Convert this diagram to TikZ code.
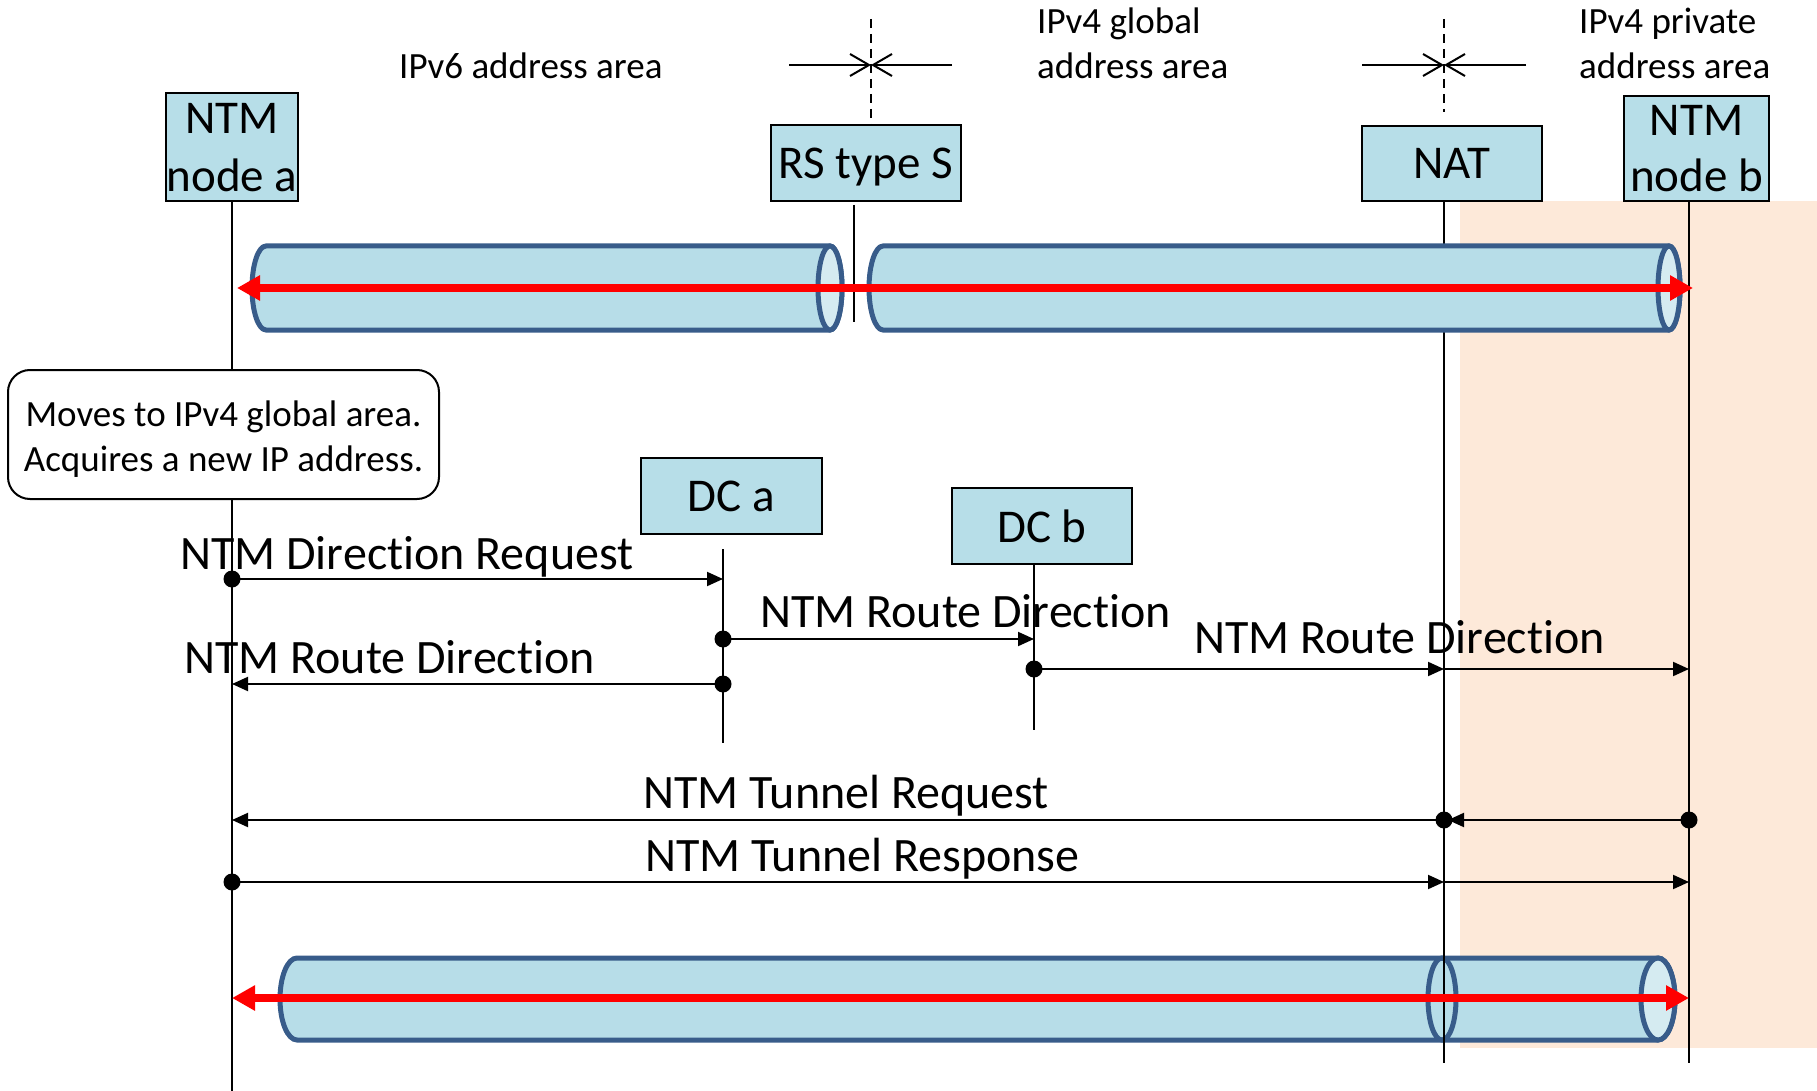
\documentclass[tikz,border=0pt]{standalone}
\usepackage{fontspec}
\setmainfont{Carlito}[Ligatures={NoCommon}]
\usetikzlibrary{arrows.meta}
\definecolor{boxfill}{HTML}{B7DEE8}
\definecolor{tubefill}{HTML}{B7DDE8}
\definecolor{tubeface}{HTML}{D5EBF1}
\definecolor{tubeline}{HTML}{385C8A}
\definecolor{privbg}{HTML}{FDE9D9}

% cylinder: #1 left centre x, #2 left x radius, #3 right centre x, #4 right x radius, #5 top y, #6 y radius
\newcommand{\tunnelbody}[6]{%
  \path[tube] (#1,#5) -- (#3,#5) arc[start angle=-90,end angle=90,x radius=#4,y radius=#6]
    -- (#1,{#5+2*#6}) arc[start angle=90,end angle=270,x radius=#2,y radius=#6] -- cycle;
  \path[tubeend] (#3,{#5+#6}) ellipse[x radius=#4,y radius=#6];}

\begin{document}
\begin{tikzpicture}[x=1pt,y=-1pt,
  entity/.style={draw=black,line width=2pt,fill=boxfill,inner sep=0pt,align=center,
    text depth=0pt,font=\fontsize{47}{56}\selectfont},
  lifeline/.style={line width=2pt},
  msg/.style={line width=2pt,-{Triangle[length=16pt,width=14pt]}},
  msglabel/.style={anchor=base west,inner sep=0pt,font=\fontsize{48}{58}\selectfont},
  arealabel/.style={anchor=base west,inner sep=0pt,font=\fontsize{37}{45}\selectfont},
  dot/.style={circle,fill=black,inner sep=0pt,minimum size=17pt},
  tube/.style={draw=tubeline,line width=5pt,fill=tubefill},
  tubeend/.style={draw=tubeline,line width=5pt,fill=tubeface},
  flow/.style={draw=red,line width=7.5pt,{Triangle[length=23pt,width=24pt]}-{Triangle[length=23pt,width=24pt]}},
  boundary/.style={line width=2pt,dash pattern=on 9pt off 6pt},
  marker/.style={line width=2pt,-{Straight Barb[length=19pt,width=22pt,line width=2pt]}}
]
\useasboundingbox (0,0) rectangle (1817,1091);

% private address area
\fill[privbg] (1460,201) rectangle (1817,1048);

% lifeline end points
\coordinate (la0) at (232,201);   \coordinate (la1) at (232,1091);
\coordinate (lrs0) at (854,205);  \coordinate (lrs1) at (854,322);
\coordinate (lnat0) at (1444,201);\coordinate (lnat1) at (1444,1063);
\coordinate (lb0) at (1689,201);  \coordinate (lb1) at (1689,1063);
\coordinate (lda0) at (723,549);  \coordinate (lda1) at (723,743);
\coordinate (ldb0) at (1034,564); \coordinate (ldb1) at (1034,730);

% tunnel after the move (behind the lifelines)
\tunnelbody{297}{17}{1658}{17}{958}{41}
\draw[draw=tubeline,line width=5pt] (1442,999) ellipse[x radius=14,y radius=41];

% lifelines
\draw[lifeline] (la0) -- (la1);
\draw[lifeline] (lrs0) -- (lrs1);
\draw[lifeline] (lnat0) -- (lnat1);
\draw[lifeline] (lb0) -- (lb1);
\draw[lifeline] (lda0) -- (lda1);
\draw[lifeline] (ldb0) -- (ldb1);

% area boundaries
\coordinate (rsd0) at (871,19);  \coordinate (rsd1) at (871,125);
\coordinate (natd0) at (1444,19); \coordinate (natd1) at (1444,112);
\draw[boundary] (rsd0) -- (rsd1);
\draw[boundary] (natd0) -- (natd1);
\coordinate (rsx) at (871,65); \coordinate (natx) at (1444,65);
\coordinate (rsl) at (789,65); \coordinate (rsr) at (952,65);
\coordinate (natl) at (1362,65); \coordinate (natr) at (1526,65);
\draw[marker] (rsl) -- (rsx);
\draw[marker] (rsr) -- (rsx);
\draw[marker] (natl) -- (natx);
\draw[marker] (natr) -- (natx);

% tunnels before the move
\tunnelbody{266}{14}{830}{12}{246}{42}
\tunnelbody{883}{14}{1669}{11}{246}{42}

% data paths
\draw[flow] ([xshift=5pt]la0 |- 0,288) -- ([xshift=4pt]lb0 |- 0,288);
\draw[flow] (la0 |- 0,998) -- (lb0 |- 0,998);

% area labels
\node[arealabel] (v6) at (399,79) {IPv6 address area};
\node[arealabel] (v4g1) at (1037,34) {IPv4 global};
\node[arealabel] (v4g2) at (1037,79) {address area};
\node[arealabel] (v4p1) at (1579,34) {IPv4 private};
\node[arealabel] (v4p2) at (1579,79) {address area};

% entities
\node[entity,minimum width=132pt,minimum height=108pt] (na) at (232,147) {\raisebox{2pt}{NTM}\\[0pt]node a};
\node[entity,minimum width=190pt,minimum height=76pt] (rs) at (866,163) {RS type S};
\node[entity,minimum width=180pt,minimum height=75pt] (nat) at (1452,163.5) {NAT};
\node[entity,minimum width=145pt,minimum height=105pt] (nb) at (1696.5,148.5) {NTM\\node b};
\node[entity,minimum width=181pt,minimum height=76pt] (dca) at (731.5,496) {DC a};
\node[entity,minimum width=180pt,minimum height=76pt] (dcb) at (1042,526) {DC b};

% note on the move
\node[draw=black,line width=2pt,fill=white,rounded corners=22pt,minimum width=431pt,
  minimum height=129pt,inner sep=0pt,font=\fontsize{37}{45}\selectfont]
  (move) at (223.5,434.5) {\raisebox{-5pt}[\height][\depth]{\begin{tabular}{@{}c@{}}Moves to IPv4 global area.\\Acquires a new IP address.\end{tabular}}};

% signalling
\draw[msg] (la0 |- 0,579) -- (lda0 |- 0,579);
\node[dot] (d1) at (la0 |- 0,579) {};
\node[msglabel] (m1) at (180,569) {NTM Direction Request};

\draw[msg] (lda0 |- 0,639) -- (ldb0 |- 0,639);
\node[dot] (d2) at (lda0 |- 0,639) {};
\node[msglabel] (m2) at (760,627) {NTM Route Direction};

\draw[msg] (lda0 |- 0,684) -- (la0 |- 0,684);
\node[dot] (d3) at (lda0 |- 0,684) {};
\node[msglabel] (m3) at (184,673) {NTM Route Direction};

\draw[msg] (ldb0 |- 0,669) -- (lnat0 |- 0,669);
\draw[msg] (lnat0 |- 0,669) -- (lb0 |- 0,669);
\node[dot] (d4) at (ldb0 |- 0,669) {};
\node[msglabel] (m4) at (1194,653) {NTM Route Direction};

\draw[msg,shorten >=-4pt] (lb0 |- 0,820) -- ([xshift=8pt]lnat0 |- 0,820);
\draw[msg] (lnat0 |- 0,820) -- (la0 |- 0,820);
\node[dot] (d5) at (lb0 |- 0,820) {};
\node[dot] (d6) at (lnat0 |- 0,820) {};
\node[msglabel] (m5) at (643,808) {NTM Tunnel Request};

\draw[msg] (la0 |- 0,882) -- (lnat0 |- 0,882);
\draw[msg] (lnat0 |- 0,882) -- (lb0 |- 0,882);
\node[dot] (d7) at (la0 |- 0,882) {};
\node[msglabel] (m6) at (645,871) {NTM Tunnel Response};
\end{tikzpicture}
\end{document}
